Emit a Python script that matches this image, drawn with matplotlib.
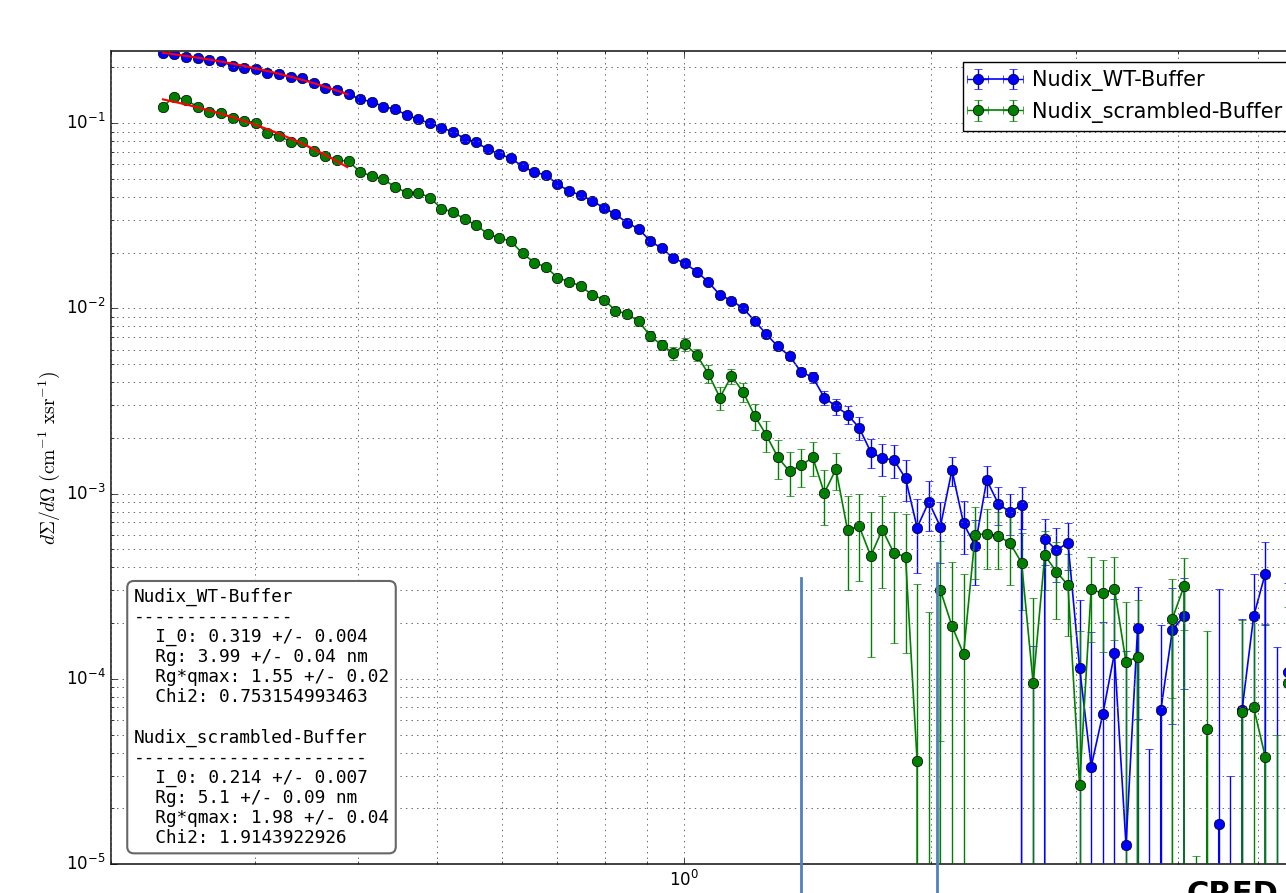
import numpy as np
import matplotlib
matplotlib.use('Agg')
import matplotlib.pyplot as plt
from matplotlib.lines import Line2D

plt.style.use('classic')
plt.rcParams['savefig.facecolor'] = 'white'
plt.rcParams['figure.facecolor'] = 'white'
plt.rcParams['mathtext.fontset'] = 'cm'

# ---------------- data ----------------
q = [0.2314, 0.2390, 0.2469, 0.2551, 0.2636, 0.2723, 0.2813, 0.2906, 0.3003, 0.3102,
     0.3205, 0.3311, 0.3421, 0.3534, 0.3651, 0.3772, 0.3897, 0.4026, 0.4159, 0.4297,
     0.4439, 0.4586, 0.4738, 0.4895, 0.5057, 0.5224, 0.5397, 0.5576, 0.5761, 0.5951,
     0.6148, 0.6352, 0.6562, 0.6780, 0.7004, 0.7236, 0.7475, 0.7723, 0.7978, 0.8242,
     0.8515, 0.8797, 0.9088, 0.9389, 0.9700, 1.0021, 1.0353, 1.0696, 1.1050, 1.1416,
     1.1794, 1.2184, 1.2588, 1.3004, 1.3435, 1.3880, 1.4339, 1.4814, 1.5305, 1.5811,
     1.6335, 1.6876, 1.7434, 1.8012, 1.8608, 1.9224, 1.9861, 2.0518, 2.1198, 2.1899,
     2.2624, 2.3374, 2.4147, 2.4947, 2.5773, 2.6626, 2.7507, 2.8418, 2.9359, 3.0331,
     3.1335, 3.2373, 3.3444, 3.4552, 3.5696, 3.6877, 3.8098, 3.9360, 4.0663, 4.2009,
     4.3400, 4.4837, 4.6321, 4.7855, 4.9439, 5.1076, 5.2767, 5.4513]

wt_I = [0.2388, 0.2358, 0.2291, 0.2263, 0.2197, 0.2162, 0.2039, 0.1982, 0.1974, 0.1878,
        0.1839, 0.1778, 0.1750, 0.1644, 0.1559, 0.1508, 0.1434, 0.1348, 0.1306, 0.1231,
        0.1190, 0.1109, 0.1050, 0.1000, 0.0948, 0.0897, 0.0827, 0.0787, 0.0724, 0.0680,
        0.0647, 0.0584, 0.0544, 0.0526, 0.0468, 0.0431, 0.0409, 0.0381, 0.0349, 0.0323,
        0.0290, 0.0269, 0.0231, 0.0211, 0.0187, 0.0175, 0.0158, 0.0139, 0.01183, 0.01103,
        0.01003, 0.00856, 0.00726, 0.00623, 0.00554, 0.00454, 0.00425, 0.00330, 0.00296, 0.00267,
        0.00227, 0.00168, 0.00155, 0.00152, 0.00121, 0.000656, 0.000902, 0.000663, 0.00134, 0.000690,
        0.000523, 0.001184, 0.000880, 0.000796, 0.000866, -1.0e-4, 0.000572, 0.000495, 0.000543, 0.000115,
        3.36e-5, 6.44e-5, 1.37e-4, 1.27e-5, 1.876e-4, -8.3e-5, 6.77e-5, 1.837e-4, 2.186e-4, -1.6e-4,
        -1.6e-4, 1.64e-5, -1.1e-4, 6.77e-5, 2.17e-4, 3.70e-4, -1.2e-5, 1.09e-4]

wt_err = [2.0e-3, 1.9e-3, 1.8e-3, 1.7e-3, 1.6e-3, 1.5e-3, 1.4e-3, 1.3e-3, 1.2e-3, 1.1e-3,
          1.0e-3, 9.5e-4, 9.0e-4, 8.5e-4, 8.0e-4, 7.5e-4, 7.0e-4, 6.8e-4, 6.5e-4, 6.2e-4,
          6.0e-4, 5.8e-4, 5.6e-4, 5.4e-4, 5.2e-4, 5.0e-4, 4.8e-4, 4.7e-4, 4.6e-4, 4.5e-4,
          4.4e-4, 4.3e-4, 4.2e-4, 4.1e-4, 4.0e-4, 3.9e-4, 3.8e-4, 3.7e-4, 3.6e-4, 3.5e-4,
          3.5e-4, 3.4e-4, 3.4e-4, 3.3e-4, 3.3e-4, 3.2e-4, 3.2e-4, 3.1e-4, 3.1e-4, 3.0e-4,
          3.0e-4, 3.0e-4, 3.0e-4, 3.0e-4, 2.8e-4, 2.5e-4, 2.8e-4, 2.8e-4, 3.0e-4, 3.0e-4,
          3.3e-4, 3.0e-4, 3.0e-4, 3.0e-4, 3.0e-4, 2.85e-4, 2.7e-4, 2.4e-4, 2.4e-4, 2.2e-4,
          2.0e-4, 2.2e-4, 2.0e-4, 2.0e-4, 2.2e-4, 2.5e-4, 1.6e-4, 1.6e-4, 1.55e-4, 1.5e-4,
          1.45e-4, 1.39e-4, 1.32e-4, 1.29e-4, 1.27e-4, 1.25e-4, 1.28e-4, 1.27e-4, 1.3e-4, 1.3e-4,
          1.3e-4, 2.9e-4, 1.4e-4, 1.43e-4, 1.5e-4, 1.75e-4, 1.6e-4, 2.2e-4]

scr_I = [0.1231, 0.1394, 0.1336, 0.1225, 0.1156, 0.1132, 0.1064, 0.1029, 0.1009, 0.0883,
         0.0854, 0.0796, 0.0796, 0.0704, 0.0666, 0.0633, 0.0623, 0.0546, 0.0519, 0.0498,
         0.0453, 0.0422, 0.0422, 0.0397, 0.0346, 0.0332, 0.0303, 0.0282, 0.0252, 0.0241,
         0.0230, 0.0198, 0.0177, 0.01675, 0.01468, 0.01397, 0.01323, 0.01183, 0.01117, 0.00974,
         0.00934, 0.00853, 0.00710, 0.00633, 0.00573, 0.00641, 0.00561, 0.00445, 0.00330, 0.00432,
         0.00354, 0.00263, 0.00207, 0.00157, 0.00132, 0.00142, 0.00157, 0.001009, 0.001354, 0.000637,
         0.000667, 0.000461, 0.000639, 0.000477, 0.000457, 3.58e-5, -6.0e-5, 3.01e-4, 1.93e-4, 1.363e-4,
         5.96e-4, 6.09e-4, 5.91e-4, 5.40e-4, 4.24e-4, 9.47e-5, 4.65e-4, 3.78e-4, 3.21e-4, 2.66e-5,
         3.05e-4, 2.89e-4, 3.07e-4, 1.234e-4, 1.313e-4, -1.6e-4, -1.6e-4, 2.116e-4, 3.16e-4, -1.19e-4,
         5.34e-5, -1.6e-4, -1.6e-4, 6.6e-5, 7.0e-5, 3.8e-5, -1.0e-4, 9.5e-5]

scr_err = [1.5e-3, 1.4e-3, 1.3e-3, 1.25e-3, 1.2e-3, 1.15e-3, 1.1e-3, 1.05e-3, 1.0e-3, 9.8e-4,
           9.6e-4, 9.4e-4, 9.2e-4, 9.0e-4, 8.8e-4, 8.6e-4, 8.4e-4, 8.2e-4, 8.0e-4, 7.8e-4,
           7.6e-4, 7.4e-4, 7.2e-4, 7.0e-4, 6.8e-4, 6.6e-4, 6.4e-4, 6.2e-4, 6.0e-4, 5.9e-4,
           5.8e-4, 5.7e-4, 5.6e-4, 5.5e-4, 5.4e-4, 5.3e-4, 5.2e-4, 5.1e-4, 5.0e-4, 4.9e-4,
           4.8e-4, 4.7e-4, 4.5e-4, 4.0e-4, 4.4e-4, 4.9e-4, 4.3e-4, 4.7e-4, 4.8e-4, 3.9e-4,
           4.2e-4, 4.2e-4, 4.0e-4, 3.7e-4, 3.5e-4, 3.3e-4, 3.3e-4, 3.3e-4, 3.1e-4, 3.35e-4,
           3.3e-4, 3.3e-4, 3.3e-4, 3.2e-4, 3.2e-4, 2.9e-4, 2.9e-4, 2.55e-4, 2.35e-4, 2.3e-4,
           2.5e-4, 2.15e-4, 2.0e-4, 2.2e-4, 1.9e-4, 1.8e-4, 1.65e-4, 1.67e-4, 1.5e-4, 1.55e-4,
           1.47e-4, 1.5e-4, 1.45e-4, 1.35e-4, 1.35e-4, 1.3e-4, 1.3e-4, 1.33e-4, 1.32e-4, 1.3e-4,
           1.28e-4, 1.3e-4, 1.3e-4, 1.43e-4, 1.5e-4, 1.6e-4, 1.5e-4, 1.5e-4]

q_res = 0.01  # relative q resolution (horizontal error bars)

labels = ['Nudix_WT-Buffer', 'Nudix_scrambled-Buffer']
# Guinier fit results
I0 = [0.319, 0.214]
I0_err = [0.004, 0.007]
Rg = [3.99, 5.1]
Rg_err = [0.04, 0.09]
Rgqmax = [1.55, 1.98]
Rgqmax_err = [0.02, 0.04]
chi2 = ['0.753154993463', '1.9143922926']

# ---------------- figure ----------------
W, H = 1286, 893
fig = plt.figure(figsize=(W / 100, H / 100), dpi=100)
ax_l, ax_r, ax_t, ax_b = 111, 1310, 51, 864
ax = fig.add_axes([ax_l / W, (H - ax_b) / H, (ax_r - ax_l) / W, (ax_b - ax_t) / H])
ax.set_xscale('log', nonpositive='clip')
ax.set_yscale('log', nonpositive='clip')

qa = np.array(q)
for I, e, c, lab in [(wt_I, wt_err, 'b', labels[0]), (scr_I, scr_err, 'g', labels[1])]:
    ax.errorbar(qa, I, yerr=e, xerr=qa * q_res, fmt='-o', color=c, ecolor=c,
                mec='k', mew=0.5, ms=7.5, lw=1.2, elinewidth=1.0, capsize=3,
                label=lab)

for k in range(2):
    qmax = Rgqmax[k] / Rg[k]
    qf = np.geomspace(q[0], qmax, 60)
    ax.plot(qf, I0[k] * np.exp(-(Rg[k] * qf) ** 2 / 3.0), color='r', lw=1.5, zorder=5)

ax.set_xlim(0.2, 10 ** ((ax_r - 684.5) / 820.0))
ax.set_ylim(1e-5, 0.2455)
ax.grid(True, which='both', color='0.4', linestyle=(0, (1, 3)), linewidth=0.7)
ax.tick_params(labelsize=12)
for sp in ax.spines.values():
    sp.set_linewidth(1.3)
    sp.set_color('0.2')
ax.set_ylabel(r'$d\Sigma/d\Omega\ (\mathrm{cm}^{-1}\ \mathrm{xsr}^{-1})$', fontsize=14)
ax.yaxis.set_label_coords((62 - ax_l) / (ax_r - ax_l), 0.5)

leg = ax.legend(loc='upper left', bbox_to_anchor=(963 / W, 1 - 62 / H),
                bbox_transform=fig.transFigure, borderaxespad=0, fontsize=15,
                numpoints=2, handlelength=2.3, handletextpad=0.6,
                fancybox=False, framealpha=1)
leg.get_frame().set_edgecolor('k')

lines = []
for k in range(2):
    lines.append(labels[k])
    lines.append('-' * len(labels[k]))
    lines.append('  I_0: %s +/- %s' % (I0[k], I0_err[k]))
    lines.append('  Rg: %s +/- %s nm' % (Rg[k], Rg_err[k]))
    lines.append('  Rg*qmax: %s +/- %s' % (Rgqmax[k], Rgqmax_err[k]))
    lines.append('  Chi2: %s' % chi2[k])
    if k == 0:
        lines.append('')
fig.text(134 / W, 1 - 588 / H, '\n'.join(lines), family='DejaVu Sans Mono',
         fontsize=12.8, va='top', ha='left', linespacing=1.14,
         bbox=dict(boxstyle='round,pad=0.38', fc='white', ec='0.4', lw=1.5))

# overlay marks present in the screenshot
for xp, yp in [(801, 578), (937, 563)]:
    fig.add_artist(Line2D([xp / W, xp / W], [0, 1 - yp / H], transform=fig.transFigure,
                          color='#4f81bd', lw=2))
fig.text(1186 / W, 1 - 880 / H, 'CRED', fontsize=22, weight='bold', va='top', ha='left')

fig.savefig('out.png', dpi=100)
